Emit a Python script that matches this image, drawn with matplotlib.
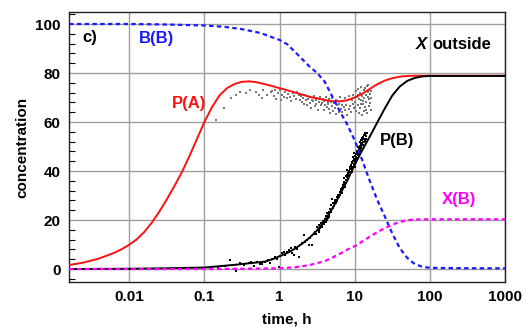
import matplotlib
matplotlib.use("Agg")
import numpy as np
import matplotlib.pyplot as plt
from matplotlib.ticker import FixedLocator, MultipleLocator, FixedFormatter

plt.rcParams['font.family'] = ['Liberation Sans', 'DejaVu Sans']
plt.rcParams['font.weight'] = 'bold'

# ---- curves (times given as log10 of hours) ----
bb_logt = [-2.8, -2.0, -1.5, -1.0, -0.75, -0.5, -0.25, 0.0, 0.1, 0.2, 0.3, 0.4, 0.5, 0.6, 0.7, 0.8, 0.9, 1.0,
           1.1, 1.2, 1.3, 1.4, 1.5, 1.6, 1.7, 1.8, 1.9, 2.0, 2.5, 3.0]
bb_v = [100, 100, 99.8, 99.4, 98.9, 97.9, 96.3, 93.5, 91.8, 88.8, 85.7, 82.6, 80.0, 76.5, 70.5, 64.5, 59.0, 52.5,
        44.5, 36.0, 28.2, 21.5, 14.5, 8.5, 4.5, 2.0, 0.9, 0.5, 0.3, 0.3]

pa_logt = [-2.8, -2.6, -2.4, -2.2, -2.1, -2.0, -1.9, -1.8, -1.7, -1.6, -1.5, -1.4, -1.3, -1.2, -1.1, -1.0, -0.9, -0.8,
           -0.7, -0.6, -0.5, -0.4, -0.3, -0.2, -0.1, 0.0, 0.1, 0.2, 0.3, 0.4, 0.5, 0.6, 0.7, 0.8, 0.9, 1.0,
           1.1, 1.2, 1.3, 1.4, 1.5, 1.6, 1.7, 1.8, 2.0, 3.0]
pa_v = [1.6, 2.7, 4.3, 6.6, 8.1, 9.9, 12.1, 15.1, 18.9, 23.4, 28.4, 33.8, 39.5, 46.0, 53.0, 60.0, 66.0, 70.8,
        73.8, 75.5, 76.4, 76.6, 76.2, 75.5, 74.7, 73.8, 73.0, 72.1, 71.2, 70.3, 69.6, 69.0, 68.5, 68.4, 68.9, 70.0,
        71.5, 73.5, 75.4, 76.9, 77.9, 78.5, 78.8, 78.9, 78.9, 78.9]

pb_logt = [-2.8, -2.0, -1.5, -1.0, -0.6, -0.2, -0.1, 0.0, 0.1, 0.2, 0.3, 0.4, 0.5, 0.6, 0.7, 0.8, 0.9, 1.0,
           1.1, 1.2, 1.3, 1.4, 1.5, 1.6, 1.7, 1.8, 1.9, 2.0, 3.0]
pb_v = [0.0, 0.1, 0.3, 0.6, 1.7, 3.0, 3.9, 5.2, 6.5, 8.2, 10.3, 12.8, 15.8, 19.8, 24.5, 30.2, 36.0, 42.5,
        48.5, 54.0, 59.8, 65.5, 70.8, 74.5, 76.8, 78.0, 78.6, 78.8, 78.8]

xb_logt = [-2.8, -1.0, -0.5, 0.0, 0.2, 0.4, 0.6, 0.7, 0.8, 0.9, 1.0, 1.1, 1.2, 1.3, 1.4, 1.5, 1.6, 1.7, 1.8, 2.0, 3.0]
xb_v = [0.0, 0.0, 0.1, 0.3, 0.7, 1.6, 3.2, 4.6, 6.2, 7.9, 9.3, 11.2, 13.2, 15.0, 16.7, 18.1, 19.2, 19.9, 20.2, 20.3, 20.3]

gray_t = [0.141, 0.182, 0.224, 0.26, 0.30, 0.354, 0.41, 0.48, 0.525, 0.59, 0.61, 0.69, 0.76,
          0.80, 0.84, 0.87, 0.91, 0.95, 1.0, 1.04, 1.08, 1.13, 1.18, 1.24, 1.3, 1.36, 1.42, 1.5, 1.57, 1.64, 1.72, 1.8, 1.88,
          1.95, 2.0, 2.06, 2.12, 2.2, 2.27, 2.33, 2.4, 2.48, 2.55, 2.63, 2.7, 2.78, 2.86, 2.95, 3.03, 3.1, 3.2, 3.28, 3.37,
          3.46, 3.55, 3.65, 3.75, 3.85, 3.95, 4.05, 4.15, 4.25, 4.35,
          4.4, 4.5, 4.6, 4.7, 4.85, 4.95, 5.05, 5.2, 5.3, 5.45, 5.6, 5.7, 5.85, 6.0, 6.1, 6.25, 6.4, 6.55, 6.7, 6.85,
          7.0, 7.2, 7.35, 7.5, 7.7, 7.9, 8.1, 8.3, 8.5, 8.7, 8.9, 9.1, 9.4, 9.6, 9.9,
          10.1, 10.3, 10.5, 10.7, 10.9, 11.1, 11.3, 11.5, 11.7, 11.9, 12.1, 12.3, 12.5, 12.7, 12.9, 13.1, 13.3, 13.5,
          13.7, 13.9, 14.1, 14.3, 14.5, 14.7, 14.9, 15.1, 15.3, 15.5, 15.7, 15.9, 16.1, 16.3, 16.5, 16.7,
          10.2, 11.0, 12.0, 13.0, 14.0, 15.0]
gray_v = [60.8, 65.6, 69.6, 71.0, 72.3, 71.7, 73.0, 72.3, 71.0, 69.8, 73.0, 71.0, 72.3,
          72.5, 70.8, 73.2, 69.5, 71.8, 72.9, 68.9, 71.2, 70.4, 72.1, 69.8, 71.5, 70.2, 68.5, 71.9, 70.6, 69.3, 72.4, 70.9, 69.1,
          70.5, 68.2, 69.7, 67.4, 71.0, 68.8, 66.9, 69.5, 70.2, 67.8, 65.6, 69.1, 68.4, 70.7, 66.5, 68.9, 67.2, 69.8, 65.1, 68.0,
          70.1, 66.8, 67.6, 69.3, 64.8, 68.6, 67.0, 70.4, 66.2, 68.3,
          67.5, 65.2, 69.3, 63.8, 68.1, 66.4, 70.0, 64.5, 67.9, 65.8, 69.1, 63.2, 66.9, 68.7, 64.1, 67.3, 70.2, 65.5, 66.8, 63.9,
          68.4, 66.0, 69.6, 64.7, 67.1, 62.8, 68.9, 65.3, 70.5, 66.6, 64.2, 69.0, 67.4, 71.2, 65.9,
          68.3, 72.5, 64.6, 70.1, 66.9, 73.4, 63.5, 69.2, 71.8, 65.7, 68.8, 74.2, 62.9, 70.6, 67.4, 72.9, 64.3, 69.9,
          73.7, 66.2, 71.1, 68.0, 74.6, 63.8, 70.3, 72.2, 66.5, 69.4, 73.0, 67.7, 71.5, 65.0, 72.7, 70.0,
          66.0, 70.9, 67.2, 68.6, 64.9, 75.0]

black_t = [0.15, 0.19, 0.22, 0.26, 0.30, 0.34, 0.39, 0.42, 0.46, 0.50, 0.55, 0.59, 0.65, 0.70, 0.75, 0.80, 0.88, 0.93, 0.98,
           1.02, 1.07, 1.14, 1.2, 1.26, 1.32, 1.4, 1.47, 1.55, 1.62, 1.7, 1.8, 1.9, 2.0, 2.1, 2.2, 2.3, 2.45, 2.58, 2.72, 2.85, 3.0,
           3.1, 3.17, 3.25, 3.3, 3.4, 3.5, 3.6, 3.7, 3.8, 3.9, 4.0, 4.1, 4.2, 4.3, 4.4, 4.5, 4.6, 4.7, 4.8, 4.9, 5.0, 5.1, 5.2,
           5.35, 5.5, 5.6, 5.75, 5.9, 6.0, 6.15, 6.3, 6.45, 6.6, 6.75, 6.9,
           7.0, 7.2, 7.4, 7.6, 7.8, 7.9, 8.0, 8.2, 8.3, 8.5, 8.6, 8.8, 8.9, 9.0, 9.2, 9.3, 9.5, 9.6, 9.7, 9.9, 10.0, 10.2,
           10.3, 10.5, 10.6, 10.8, 10.9, 11.1, 11.3, 11.4, 11.6, 11.8, 12.0, 12.2, 12.4, 12.6, 12.8, 13.1, 13.3, 13.6, 13.9,
           14.2, 14.5, 8.1, 9.1, 10.1, 11.2, 12.1, 13.0, 7.5,
           3.35, 3.65, 3.95, 4.25, 4.55, 4.85, 5.15, 5.45, 5.8, 6.2, 6.5, 6.8, 7.1, 7.3, 7.7, 8.05, 8.4, 8.75, 9.05, 9.35,
           9.65, 9.95, 10.25, 10.55, 10.85, 11.15, 11.45, 11.75, 12.05, 12.35, 12.7, 13.2, 13.8, 14.3, 9.8, 10.4, 11.6, 12.9]
black_v = [0.8, 1.2, 3.7, -0.7, 2.3, 1.6, 2.6, 3.0, 1.4, 2.8, 2.2, 1.9, 3.0, 3.6, 2.6, 4.2, 5.0, 4.1, 0.9,
           5.2, 6.4, 7.1, 5.8, 6.9, 7.6, 8.4, 6.5, 5.7, 8.9, 8.1, 5.0, 9.8, 10.6, 13.9, 10.9, 11.8, 9.8, 12.7, 9.8, 14.1, 15.0,
           14.2, 17.3, 16.0, 15.1, 17.9, 16.6, 18.8, 17.5, 19.7, 18.2, 20.5, 19.3, 21.8, 22.7, 20.9, 23.4, 22.1, 24.6, 23.2,
           26.0, 28.4, 24.8, 26.9, 25.7, 28.1, 27.0, 29.5, 28.3, 30.4, 29.2, 31.5, 30.1, 32.6, 31.2, 33.8,
           34.2, 37.0, 35.1, 36.4, 38.2, 40.4, 37.5, 39.1, 38.4, 40.2, 41.8, 39.6, 42.5, 40.9, 43.1, 41.7, 44.0, 45.8, 42.6,
           44.8, 43.5, 46.2, 45.0, 47.1, 44.4, 48.0, 46.5, 49.9, 47.6, 48.8, 50.3, 49.1, 51.2, 52.5, 50.6, 53.4, 51.9, 54.7,
           53.0, 55.4, 52.2, 54.1, 55.4, 36.8, 39.8, 41.6, 45.5, 49.5, 50.8, 33.3,
           15.8, 17.0, 19.0, 20.1, 21.4, 24.0, 25.5, 27.2, 27.8, 29.8, 31.7, 33.2, 35.6, 34.5, 37.9, 38.8, 39.7, 41.0, 41.2, 43.8,
           43.0, 46.0, 44.2, 45.8, 47.3, 46.8, 49.6, 48.2, 50.0, 51.4, 52.8, 51.8, 54.5, 53.2, 47.4, 43.8, 52.0, 53.8]

x_ticks = [0.01, 0.1, 1, 10, 100, 1000]
x_ticklabels = ["0.01", "0.1", "1", "10", "100", "1000"]
y_ticks = [0, 20, 40, 60, 80, 100]

fig = plt.figure(figsize=(5.26, 3.31), dpi=100)
ax = fig.add_axes([69/526, 1-282/331, (505-69)/526, (282-12)/331])

ax.set_xscale('log')
ax.set_xlim(0.00158, 1000)
ax.set_ylim(-5.3, 104.9)

ax.grid(True, which='major', color='#a0a0a0', lw=1.0)
ax.set_axisbelow(True)

ax.scatter(gray_t, gray_v, s=4.5, marker='s', color='#777777', linewidths=0, zorder=2)
ax.scatter(black_t, black_v, s=4.5, marker='s', color='black', linewidths=0, zorder=2)

ax.plot(10 ** np.array(pa_logt), pa_v, color='#ff1010', lw=1.4, zorder=3)
ax.plot(10 ** np.array(pb_logt), pb_v, color='black', lw=1.4, zorder=3)
ax.plot(10 ** np.array(bb_logt), bb_v, color='#1a1aff', lw=1.6, dashes=(2, 1.5), zorder=4)
ax.plot(10 ** np.array(xb_logt), xb_v, color='#ff00ff', lw=1.6, dashes=(2, 1.5), zorder=4)

ax.xaxis.set_major_locator(FixedLocator(x_ticks))
ax.xaxis.set_major_formatter(FixedFormatter(x_ticklabels))
ax.xaxis.set_minor_locator(FixedLocator([]))
ax.yaxis.set_major_locator(FixedLocator(y_ticks))
ax.yaxis.set_minor_locator(MultipleLocator(4))
ax.tick_params(axis='both', which='major', direction='in', length=0, labelsize=11, pad=6)
ax.tick_params(axis='y', which='minor', direction='in', length=4, width=0.8, left=True)
for lab in ax.get_xticklabels() + ax.get_yticklabels():
    lab.set_fontweight('bold')
for sp in ax.spines.values():
    sp.set_linewidth(1.0)
    sp.set_color('#222222')

ax.set_xlabel("time, h", fontsize=11, fontweight='bold', labelpad=6)
ax.set_ylabel("concentration", fontsize=11, fontweight='bold', labelpad=4)

ax.text(0.0030, 94.6, "c)", fontsize=12, fontweight='bold', ha='center', va='center')
ax.text(0.0233, 94.2, "B(B)", fontsize=12, fontweight='bold', color='#1a1aff', ha='center', va='center')
ax.text(0.062, 67.7, "P(A)", fontsize=12, fontweight='bold', color='#ff1010', ha='center', va='center')
ax.text(36.9, 52.6, "P(B)", fontsize=12, fontweight='bold', color='black', ha='center', va='center')
ax.text(246, 28.5, "X(B)", fontsize=12, fontweight='bold', color='#ff00ff', ha='center', va='center')
ax.text(92, 91.5, "X", fontsize=12, fontweight='bold', fontstyle='italic', ha='right', va='center')
ax.text(108, 91.5, "outside", fontsize=12, fontweight='bold', ha='left', va='center')

fig.savefig("out.png", dpi=100)
